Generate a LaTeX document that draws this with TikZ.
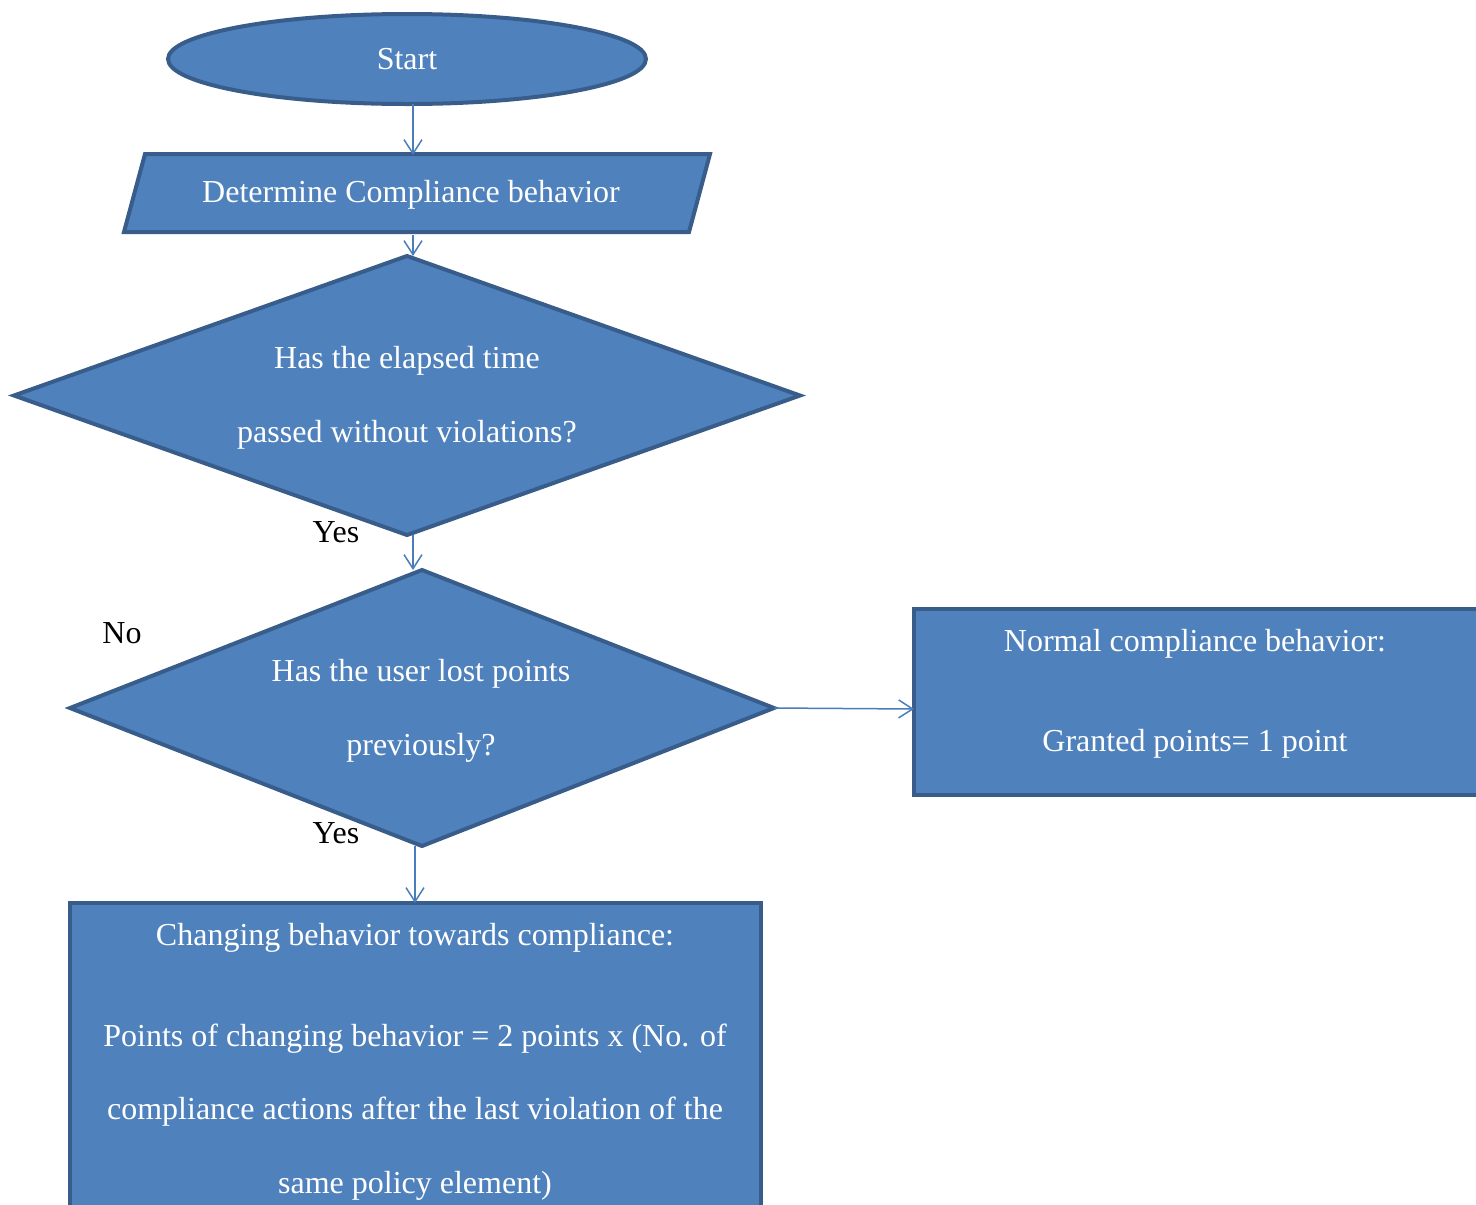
\documentclass[tikz,border=0pt]{standalone}
\usepackage{fontspec}
\setmainfont{Liberation Serif}
\usetikzlibrary{shapes.geometric,arrows.meta}
\definecolor{boxfill}{HTML}{4F81BD}
\definecolor{boxline}{HTML}{385D8A}
\definecolor{linkcol}{HTML}{4A7EBB}
\begin{document}
\begin{tikzpicture}[x=1pt,y=-1pt,
  shapebox/.style={draw=boxline, fill=boxfill, line width=4pt, inner sep=0pt, outer sep=0pt, line join=miter},
  txt/.style={text=white, font=\fontsize{32}{73.5}\selectfont, align=center, inner sep=0pt, outer sep=0pt},
  lbl/.style={text=black, font=\fontsize{32}{38}\selectfont, inner sep=0pt},
  link/.style={draw=linkcol, line width=1.5pt, -{Straight Barb[length=14pt,width=18pt]}}]
\useasboundingbox (0,0) rectangle (1476,1205);
\clip (0,0) rectangle (1476,1205);

% terminal
\node[shapebox, ellipse, minimum width=478pt, minimum height=90pt] (start) at (407,59) {};
\node[txt] (starttext) at (407,59) {Start};

% input / parallelogram
\path[shapebox] (145,154) -- (710,154) -- (689,232) -- (124,232) -- cycle;
\node[txt, minimum height=80pt] (det) at (411,195) {Determine Compliance behavior};

% decisions
\node[shapebox, diamond, minimum width=786pt, minimum height=279pt] (d1) at (407,395.5) {};
\node[txt] (d1text) at (407,398) {Has the elapsed time\\passed without violations?};
\node[shapebox, diamond, minimum width=704pt, minimum height=276pt] (d2) at (422,708) {};
\node[txt] (d2text) at (421,711) {Has the user lost points\\previously?};

% outcomes
\node[shapebox, rectangle, minimum width=590pt, minimum height=186pt] (normal) at (1209,702) {};
\node[txt] (normaltext) at (1195,694) {Normal compliance behavior:\\[27pt]Granted points= 1 point};
\node[shapebox, rectangle, minimum width=691pt, minimum height=400pt] (change) at (415.5,1103) {};
\node[txt] (changetext) at (415,1062) {Changing behavior towards compliance:\\[27pt]Points of changing behavior = 2 points x (No. of\\compliance actions after the last violation of the\\same policy element)};

% branch labels
\node[lbl] (yes1) at (336,532) {Yes};
\node[lbl] (no) at (122,633) {No};
\node[lbl] (yes2) at (336,833) {Yes};

% connectors
\coordinate (axis) at (413,0);
\coordinate (axisb) at (415,0);
\draw[link] (start.south -| axis) -- (det.north -| axis);
\draw[link] (det.south -| axis) -- (d1.north -| axis);
\draw[link] (d1.south -| axis) -- (d2.north -| axis);
\draw[link] (d2.east) -- ([yshift=-7pt]normal.west);
\draw[link] (d2.south -| axisb) -- (change.north -| axisb);
\end{tikzpicture}
\end{document}
